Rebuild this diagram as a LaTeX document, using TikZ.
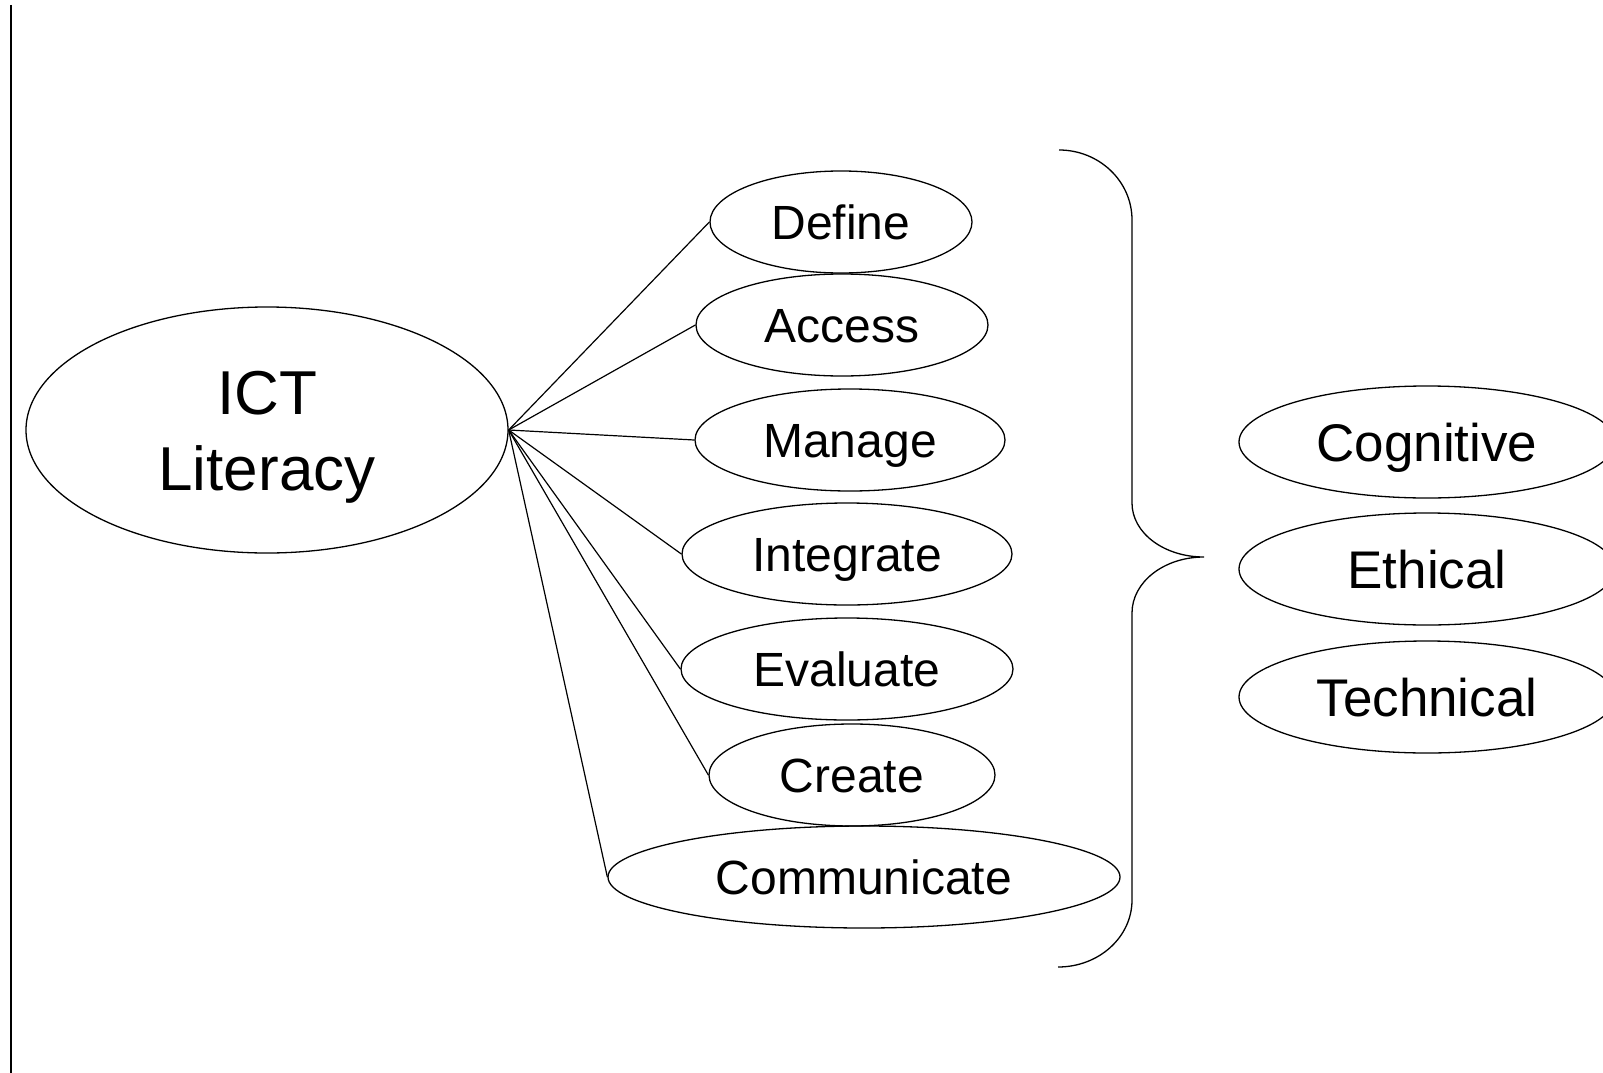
\documentclass[tikz,border=0pt]{standalone}
\usepackage{fontspec}
\setmainfont{Liberation Sans}
\usetikzlibrary{shapes.geometric}
\begin{document}
\begin{tikzpicture}[x=1pt,y=-1pt,
  ov/.style={draw,ellipse,line width=1.3pt,inner sep=0pt,minimum height=102pt,
    font=\fontsize{48}{56}\selectfont,text height=34pt,text depth=0pt},
  bigov/.style={draw,ellipse,line width=1.3pt,inner sep=0pt,minimum width=376pt,minimum height=112pt,
    font=\fontsize{53}{62}\selectfont,text height=38pt,text depth=0pt},
  conn/.style={line width=1.2pt}]
\useasboundingbox (0,0) rectangle (1603,1073);
\coordinate (ltop) at (11,5);
\coordinate (lbot) at (11,1073);
\draw[line width=2pt] (ltop) -- (lbot);
\node[draw,ellipse,line width=1.3pt,inner sep=0pt,minimum width=482pt,minimum height=246pt,
  align=center,font=\fontsize{62}{76}\selectfont,text height=121pt,text depth=0pt] (ict) at (267,430) {ICT\\Literacy};
\node[ov,minimum width=262pt] (define) at (841,222) {Define};
\node[ov,minimum width=292pt] (access) at (842,325) {Access};
\node[ov,minimum width=310pt] (manage) at (850,440) {Manage};
\node[ov,minimum width=330pt] (integrate) at (847,554) {Integrate};
\node[ov,minimum width=332pt] (evaluate) at (847,669) {Evaluate};
\node[ov,minimum width=286pt] (create) at (852,775) {Create};
\node[ov,minimum width=512pt] (communicate) at (864,877) {Communicate};
\node[bigov] (cognitive) at (1427,442) {Cognitive};
\node[bigov] (ethical) at (1427,569) {Ethical};
\node[bigov] (technical) at (1427,697) {Technical};
\foreach \n in {define,access,manage,integrate,evaluate,create,communicate}
  \draw[conn] (ict.east) -- (\n.west);
\coordinate (btop) at (1059,150);
\coordinate (btip) at (1204,557);
\coordinate (bbot) at (1058,967);
\draw[line width=1.3pt] (btop) .. controls (1099,150) and (1132,181) .. (1132,220)
  -- (1132,503) .. controls (1132,533) and (1164,557) .. (btip)
  .. controls (1164,557) and (1132,582) .. (1132,613)
  -- (1132,900) .. controls (1132,937) and (1099,967) .. (bbot);
\end{tikzpicture}
\end{document}
